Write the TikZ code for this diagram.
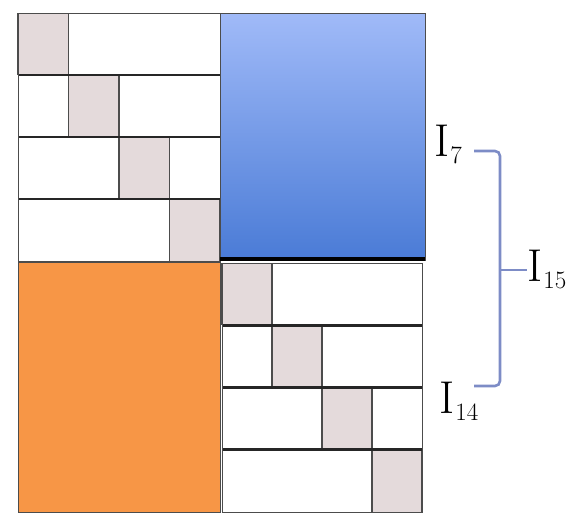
\documentclass[tikz,border=0pt]{standalone}
\usetikzlibrary{positioning}

\definecolor{cellgrey}{HTML}{E4DADB}
\definecolor{blockorange}{HTML}{F79646}
\definecolor{bluetop}{HTML}{A0BAF8}
\definecolor{bluebottom}{HTML}{4A7BD6}
\definecolor{bracecol}{HTML}{7D8CC6}

\newcommand{\ilbl}[1]{I\kern1pt\raisebox{-7pt}{\fontsize{25}{25}\selectfont #1}}

\tikzset{
  rowline/.style={black!85, line width=2.6pt},
  sideline/.style={black!70, line width=1.3pt},
  outline/.style={draw=black!70, line width=1pt},
  lbl/.style={font=\fontsize{46}{46}\selectfont, inner sep=0pt, anchor=base west},
  bracepath/.style={bracecol, line width=2.6pt, rounded corners=5pt}
}

\begin{document}
\begin{tikzpicture}[x=1pt, y=-1pt]

  \useasboundingbox (0,0) rectangle (571,514);

  % top left: four rows, grey cell moving right
  \foreach \r in {0,...,3} {
    \fill[white] ({18},{13+\r*62}) rectangle ({220},{13+(\r+1)*62});
    \fill[cellgrey] ({18+\r*50.5},{13+\r*62}) rectangle ({18+(\r+1)*50.5},{13+(\r+1)*62});
    \draw[sideline] ({18+\r*50.5},{13+\r*62}) -- ({18+\r*50.5},{13+(\r+1)*62});
    \draw[sideline] ({18+(\r+1)*50.5},{13+\r*62}) -- ({18+(\r+1)*50.5},{13+(\r+1)*62});
  }
  \foreach \r in {1,...,3}
    \draw[rowline] (18,{13+\r*62}) -- (220,{13+\r*62});
  \draw[outline] (18,13) rectangle (220,261);

  % top right: blue block
  \shade[top color=bluetop, bottom color=bluebottom] (220,13) rectangle (425,260);
  \draw[outline] (220,13) rectangle (425,260);
  \draw[black, line width=4pt] (220,259) -- (425,259);

  % bottom left: orange block
  \fill[blockorange] (18,262) rectangle (220,512);
  \draw[outline] (18,262) rectangle (220,512);

  % bottom right: four rows, grey cell moving right
  \foreach \r in {0,...,3} {
    \fill[white] ({222},{263+\r*62.2}) rectangle ({422},{263+(\r+1)*62.2});
    \fill[cellgrey] ({222+\r*50},{263+\r*62.2}) rectangle ({222+(\r+1)*50},{263+(\r+1)*62.2});
    \draw[sideline] ({222+\r*50},{263+\r*62.2}) -- ({222+\r*50},{263+(\r+1)*62.2});
    \draw[sideline] ({222+(\r+1)*50},{263+\r*62.2}) -- ({222+(\r+1)*50},{263+(\r+1)*62.2});
  }
  \foreach \r in {1,...,3}
    \draw[rowline] (222,{263+\r*62.2}) -- (422,{263+\r*62.2});
  \draw[outline] (222,263) rectangle (422,512);

  % labels
  \node[lbl] (iseven) at (434,156) {\ilbl{7}};
  \node[lbl] (ifourteen) at (439,413) {\ilbl{14}};
  \node[lbl] (ififteen) at (527,281) {\ilbl{15}};

  % brace
  \coordinate (btop) at (474,151);
  \coordinate (bbot) at (474,386);
  \coordinate (bmid) at (500,270);
  \draw[bracepath] (btop) -| (bmid) |- (bbot);
  \draw[bracecol, line width=2.6pt] (bmid) -- (ififteen.west |- bmid);

\end{tikzpicture}
\end{document}
